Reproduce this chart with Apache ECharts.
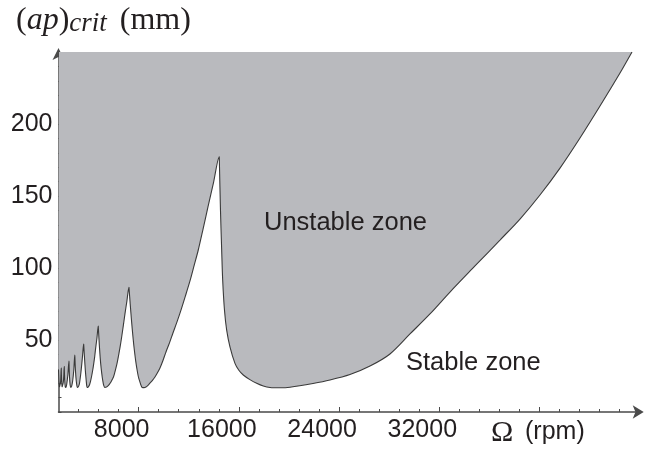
<!DOCTYPE html>
<html>
<head>
<meta charset="utf-8">
<script src="https://cdn.jsdelivr.net/npm/echarts@6/dist/echarts.min.js"></script>
<style>html,body{margin:0;padding:0;background:#fff}#c{width:645px;height:450px}</style>
</head>
<body>
<div id="c"></div>
<script>
// Spindle speed (rpm) and critical depth of cut (mm)
const speedRpm = [
  1600, 1640, 1680, 1720, 1760, 1790, 1820, 1822,
  1850, 1890, 1930, 1980, 2020, 2060, 2062,
  2095, 2140, 2190, 2260, 2350, 2435, 2437,
  2475, 2525, 2580, 2650, 2730, 2820, 2900, 2902,
  2960, 3018, 3075, 3130, 3200, 3273, 3393, 3505, 3609, 3611,
  3660, 3713, 3760, 3808, 3850, 3896, 3980, 4072, 4160, 4247, 4330, 4407, 4490, 4567, 4670, 4774, 4776,
  4870, 4966, 5050, 5126, 5210, 5309, 5430, 5549, 5670, 5788, 5890, 5988, 6090, 6188, 6290, 6387, 6515, 6643, 6775, 6906, 7060, 7225, 7227,
  7325, 7425, 7525, 7625, 7770, 7920, 8010, 8104, 8190, 8287, 8430, 8583, 8740, 8902, 9100, 9301, 9500, 9701, 9940, 10180, 10460, 10738, 11060, 11377, 11740, 12096, 12430, 12758, 13140, 13533, 13980, 14435, 14437,
  14531, 14627, 14707, 14850, 15026, 15289, 15689, 16000, 16351, 16880, 17421, 17950, 18483, 19280, 20080, 21916, 23273, 24870, 26467, 28064, 29661, 31257, 32854, 34850, 36846, 38443, 40039, 41636, 43233, 44830, 46427, 47385
];
const apCrit = [
  29.5, 21, 17.5, 17.2, 20.5, 25, 30.6, 30.4,
  21.5, 17.5, 17.2, 20.5, 25, 31.6, 31.4,
  22, 17.5, 17.1, 19.5, 26, 35.4, 35.2,
  25, 19, 17.1, 18, 21.5, 29, 39.6, 39.4,
  28, 21.5, 18, 17, 17.8, 19.8, 27.8, 37.5, 47.2, 47.0,
  40, 32.6, 27, 22.2, 18.5, 17, 17.5, 18.8, 21.5, 25, 29, 33.3, 38.5, 44.4, 51.5, 59.7, 59.5,
  45, 33.8, 27, 22.2, 18.5, 17, 17.3, 18.1, 19.3, 20.8, 22.5, 24.3, 27.3, 30.6, 34.5, 38.9, 45, 52.1, 60, 68.1, 77, 86.6, 86.4,
  75, 63.9, 54, 45.3, 35, 26.9, 23.3, 20.8, 18.5, 17.0, 16.9, 17.4, 18.5, 20.1, 22, 24.3, 27.2, 30.6, 35.8, 41.7, 48, 54.9, 62.6, 70.8, 80.8, 91.0, 101.8, 112.5, 127, 142.4, 159.5, 177.3, 177.0,
  140.3, 112.5, 91.7, 70.8, 56.9, 45.3, 33.8, 29, 25.7, 22.5, 19.9, 18, 17.0, 16.8, 17.2, 19.8, 22.2, 26.0, 31.9, 40.3, 54.2, 68.1, 83.3, 101.4, 119.4, 134.0, 150.7, 169.4, 190.3, 212.5, 235.4, 250
];
const xLabelValues = [8000, 16000, 24000, 32000];
const xMajorTicks = [8000, 16000, 24000, 32000, 40000];
const yLabelValues = [50, 100, 150, 200];

const X_MIN = 1600, X_MAX = 48000, X_STEP = 1600;
const xMinorTicks = [];
for (let v = X_MIN + X_STEP; v < X_MAX; v += X_STEP) xMinorTicks.push(v);

const curve = speedRpm.map((x, i) => [x, apCrit[i]]);
const ink = '#231f20';
const axisColor = '#4a4a4a';
const plain = v => String(v);

const chart = echarts.init(document.getElementById('c'));
chart.setOption({
  animation: false,
  backgroundColor: '#ffffff',
  title: {
    text: '{n|(}{i|ap}{n|)}{s|crit}{m|(mm)}',
    left: 16, top: 3, padding: 0,
    textStyle: {
      fontWeight: 'normal',
      rich: {
        n: {fontFamily: 'Liberation Serif', fontWeight: 'normal', fontSize: 32, color: ink, verticalAlign: 'bottom', lineHeight: 34},
        m: {fontFamily: 'Liberation Serif', fontWeight: 'normal', fontSize: 32, color: ink, verticalAlign: 'bottom', lineHeight: 34, padding: [0, 0, 0, 13]},
        i: {fontFamily: 'Liberation Serif', fontWeight: 'normal', fontStyle: 'italic', fontSize: 32, color: ink, verticalAlign: 'bottom', lineHeight: 34},
        s: {fontFamily: 'Liberation Serif', fontWeight: 'normal', fontStyle: 'italic', fontSize: 27, color: ink, verticalAlign: 'bottom', lineHeight: 34}
      }
    }
  },
  grid: {left: 58.5, right: 645 - 639.7, top: 52, bottom: 38, containLabel: false},
  xAxis: [{
    type: 'value', min: X_MIN, max: X_MAX,
    axisLine: {show: true, lineStyle: {color: axisColor, width: 1.5}, symbol: ['none', 'arrow'], symbolSize: [10, 11], symbolOffset: [0, 4]},
    axisTick: {show: true, inside: true, length: 3, customValues: xMinorTicks, lineStyle: {color: axisColor, width: 1}},
    axisLabel: {customValues: xLabelValues, formatter: plain, margin: 6, padding: [0, 34, 0, 0], color: ink, fontFamily: 'Liberation Sans', fontSize: 25},
    splitLine: {show: false}
  }, {
    type: 'value', min: X_MIN, max: X_MAX, position: 'bottom', offset: 0,
    axisLine: {show: false},
    axisTick: {show: true, inside: true, length: 5, customValues: xMajorTicks, lineStyle: {color: axisColor, width: 1}},
    axisLabel: {show: false},
    splitLine: {show: false}
  }],
  yAxis: {
    type: 'value', min: 0, max: 250, interval: 10,
    axisLine: {show: true, lineStyle: {color: axisColor, width: 1.5}, symbol: ['none', 'arrow'], symbolSize: [9, 12], symbolOffset: [0, 4]},
    axisTick: {show: true, inside: true, length: 3, lineStyle: {color: axisColor, width: 1}},
    axisLabel: {customValues: yLabelValues, formatter: plain, margin: 6, color: ink, fontFamily: 'Liberation Sans', fontSize: 25},
    splitLine: {show: false}
  },
  series: [{
    type: 'line',
    data: curve,
    symbol: 'none',
    showSymbol: false,
    sampling: 'none',
    smooth: 0.3,
    lineStyle: {color: '#3a3a3a', width: 1.1},
    areaStyle: {color: '#b9babe', opacity: 1, origin: 'end'},
    z: 2
  }],
  graphic: [
    {type: 'text', z: 100, left: 264, top: 210, silent: true, style: {text: 'Unstable zone', fill: ink, font: '25.5px "Liberation Sans"'}},
    {type: 'text', z: 100, left: 406, top: 350, silent: true, style: {text: 'Stable zone', fill: ink, font: '25.5px "Liberation Sans"'}},
    {type: 'text', z: 100, left: 491, top: 418, silent: true, style: {text: 'Ω', fill: ink, font: '30px "Liberation Serif"'}},
    {type: 'text', z: 100, left: 525, top: 420, silent: true, style: {text: '(rpm)', fill: ink, font: '25px "Liberation Sans"'}}
  ]
});
</script>
</body>
</html>
